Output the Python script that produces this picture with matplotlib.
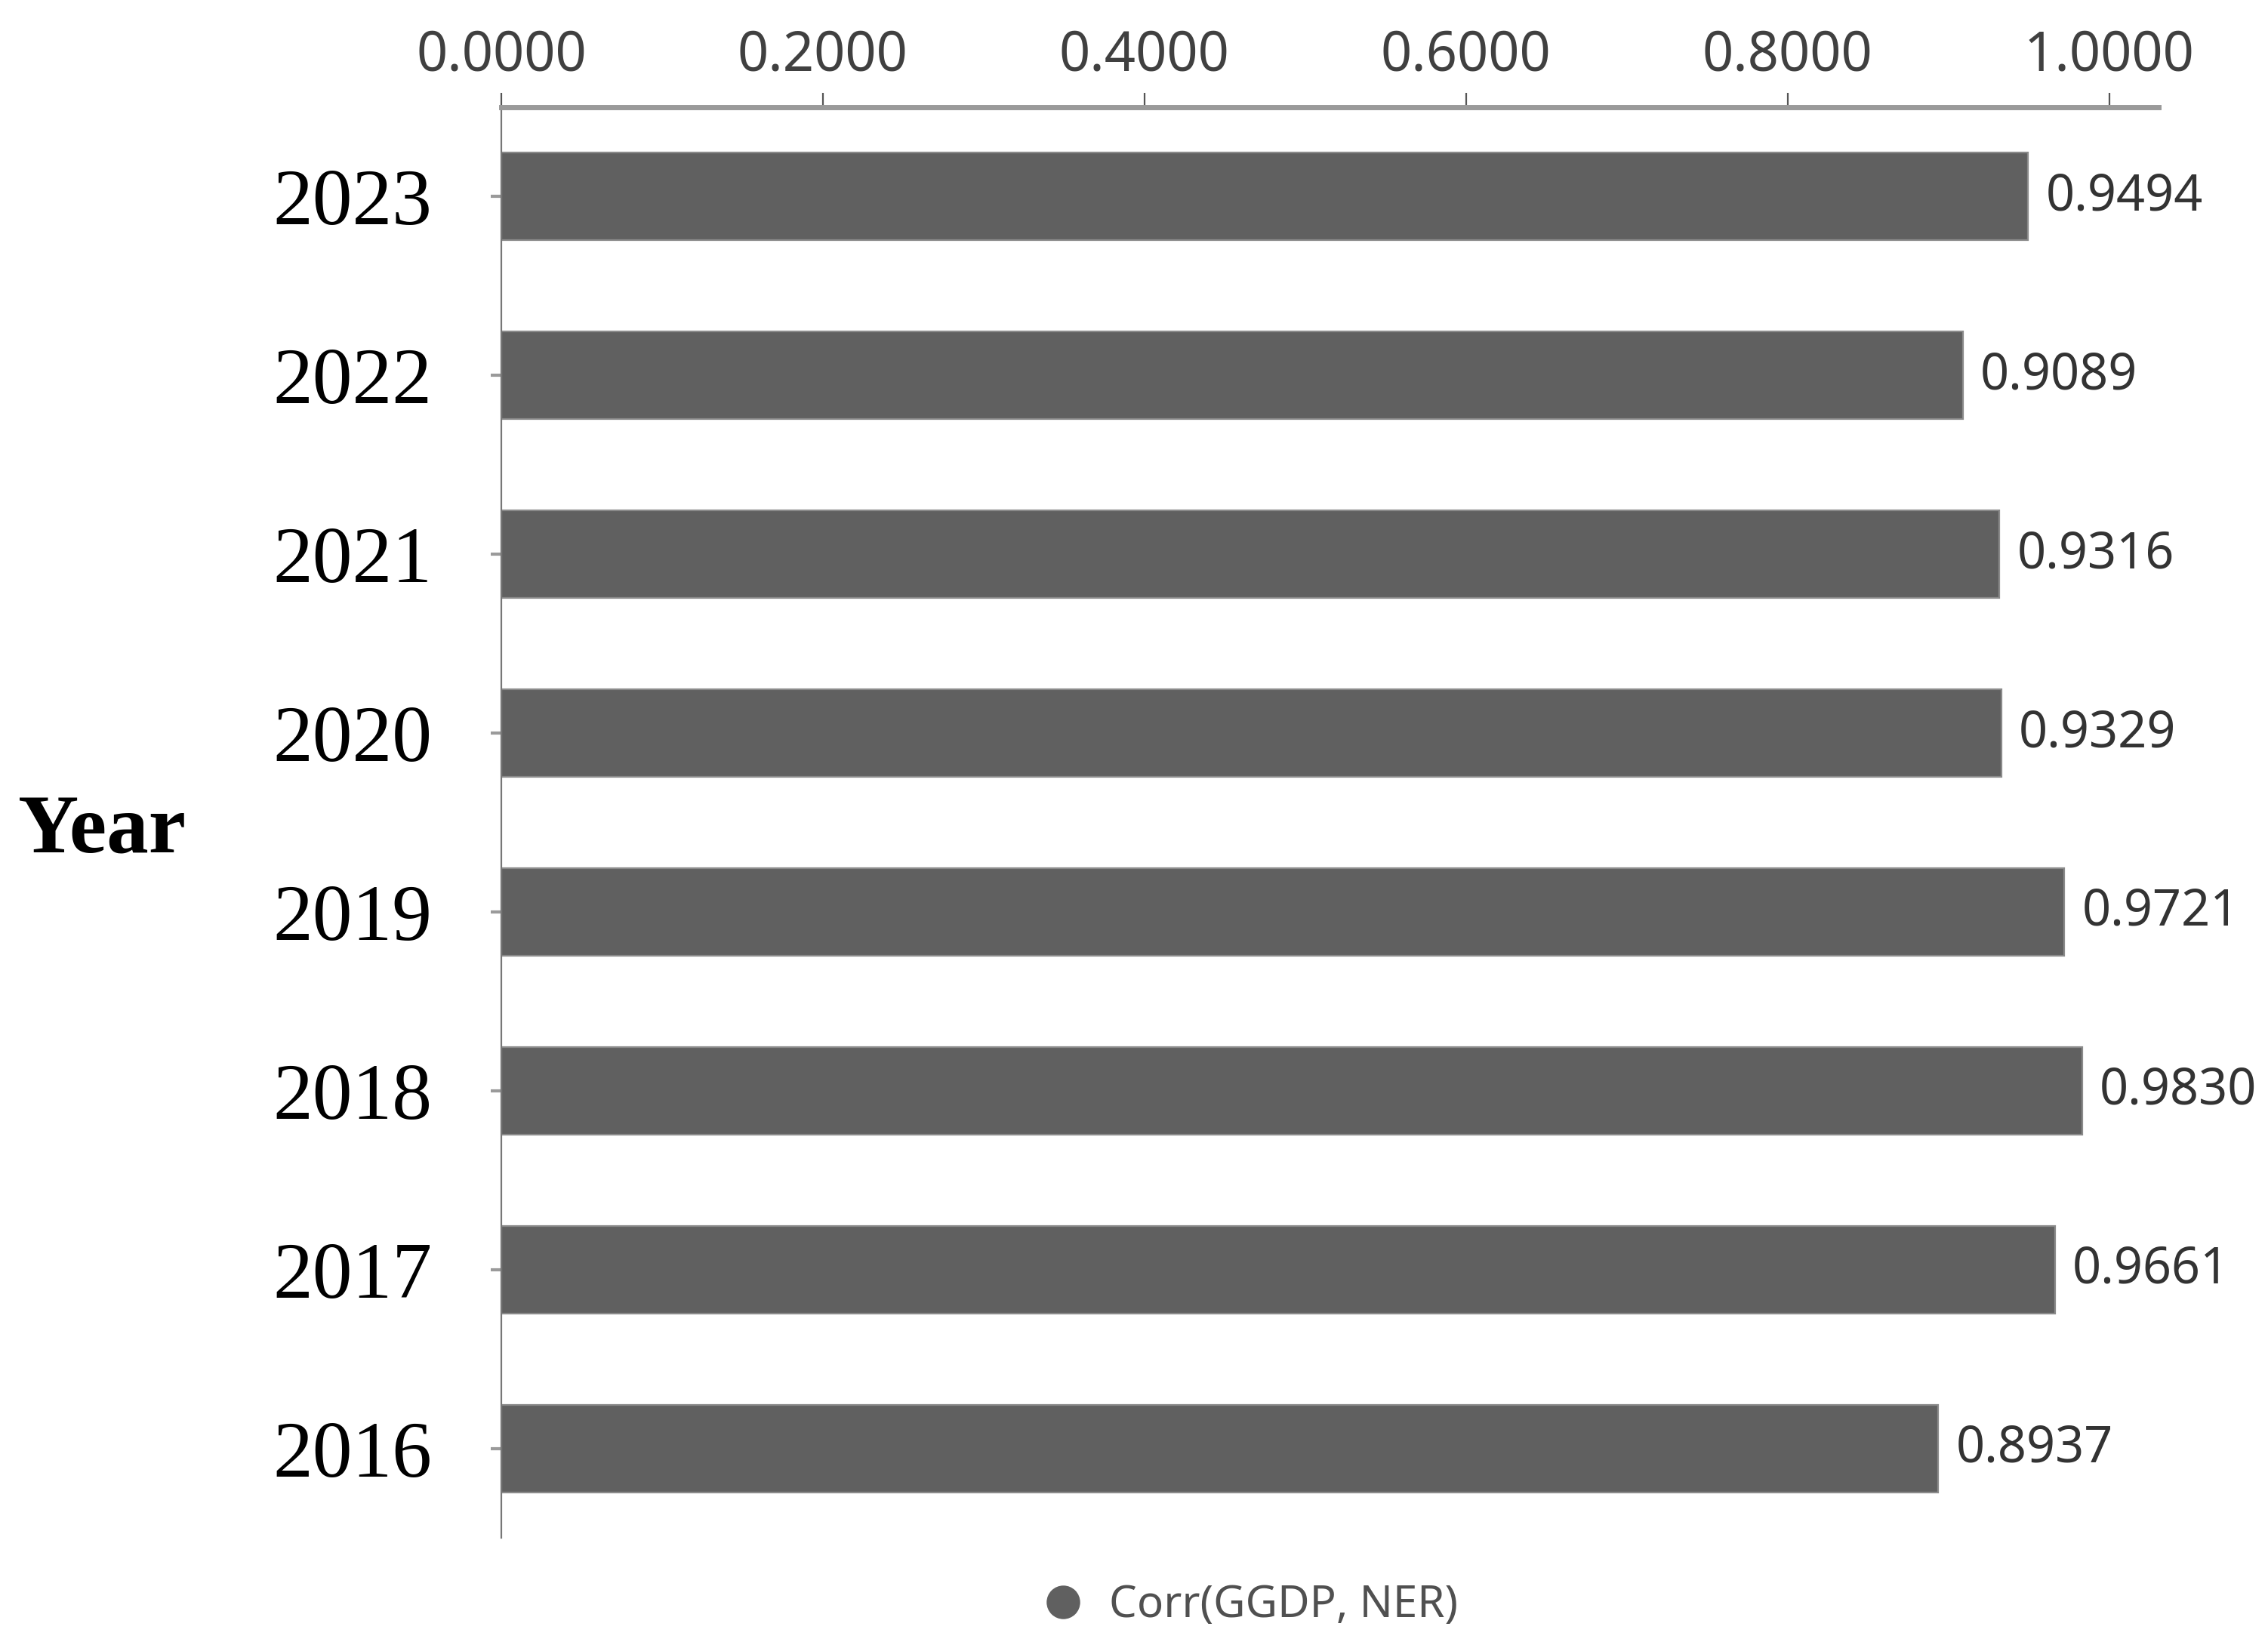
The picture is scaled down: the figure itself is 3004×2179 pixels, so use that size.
import matplotlib
matplotlib.use("Agg")
import matplotlib.pyplot as plt
from matplotlib.lines import Line2D

years = ["2016", "2017", "2018", "2019", "2020", "2021", "2022", "2023"]
corr_values = [0.8937, 0.9661, 0.9830, 0.9721, 0.9329, 0.9316, 0.9089, 0.9494]
x_ticks = [0.0, 0.2, 0.4, 0.6, 0.8, 1.0]
legend_label = "Corr(GGDP, NER)"

bar_color = "#606060"
axis_gray = "#9a9a9a"
text_gray = "#404040"

fig = plt.figure(figsize=(15.02, 10.895), dpi=200)
ax = fig.add_axes([0.221, 0.065, 0.7307, 0.870])

pos = list(range(len(years)))
ax.barh(pos, corr_values, height=0.49, color=bar_color,
        edgecolor="#8a8a8a", linewidth=0.8, zorder=2)

for p, v in zip(pos, corr_values):
    ax.text(v + 0.011, p, f"{v:.4f}", va="center", ha="left",
            fontsize=24, color="#333333", family="Noto Sans")

ax.set_xlim(0, 1.0306)
ax.set_ylim(-0.5, 7.5)

ax.xaxis.tick_top()
ax.set_xticks(x_ticks)
ax.set_xticklabels([f"{t:.4f}" for t in x_ticks], fontsize=26,
                   color=text_gray, family="Noto Sans")
ax.tick_params(axis="x", direction="out", length=7, width=0.8,
               color="#555555", pad=4)

ax.set_yticks(pos)
ax.set_yticklabels(years, fontsize=38, family="Liberation Serif",
                   color="black")
ax.tick_params(axis="y", direction="out", length=5, width=1.5,
               color=axis_gray, pad=28)

for s in ["right", "bottom"]:
    ax.spines[s].set_visible(False)
ax.spines["top"].set_color(axis_gray)
ax.spines["top"].set_linewidth(2.5)
ax.spines["left"].set_color("#777777")
ax.spines["left"].set_linewidth(0.8)

fig.text(0.045, 0.494, "Year", fontsize=40, fontweight="bold",
         family="Liberation Serif", ha="center", va="center")

handle = Line2D([], [], marker="o", linestyle="none", markersize=15,
                markerfacecolor=bar_color, markeredgecolor=bar_color)
leg = fig.legend([handle], [legend_label], loc="center",
                 bbox_to_anchor=(0.546, 0.024), frameon=False,
                 handletextpad=0.05, prop={"family": "Noto Sans", "size": 21})
for t in leg.get_texts():
    t.set_color("#505050")

fig.savefig("out.png", dpi=200)
